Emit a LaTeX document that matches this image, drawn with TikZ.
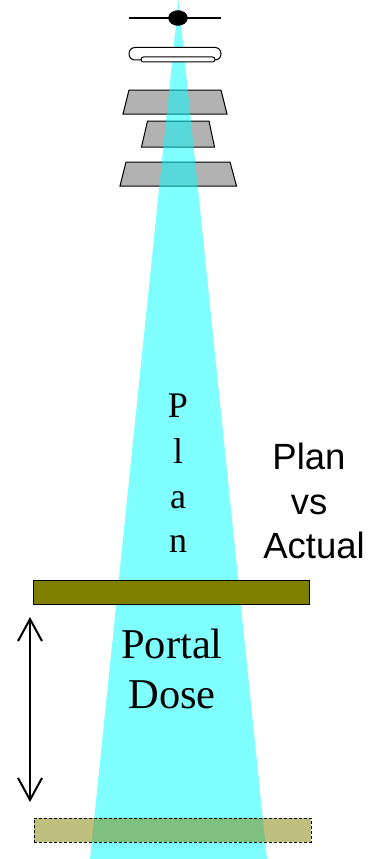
\documentclass[tikz,border=0pt]{standalone}
\usepackage{fontspec}
\setmainfont{Liberation Serif}
\newfontfamily\labelfont{Liberation Sans}
\usetikzlibrary{arrows.meta, shapes.geometric}
\definecolor{beamcyan}{RGB}{0,255,255}
\definecolor{plategray}{RGB}{178,178,178}
\definecolor{plateolive}{RGB}{128,128,0}
\tikzset{
    jaw/.style={draw=black, fill=plategray, line width=1pt},
    portal/.style={draw=black, fill=plateolive, line width=1pt},
    serifbig/.style={font=\fontsize{42.5}{42.5}\selectfont, anchor=base, inner sep=0pt},
    serifmid/.style={font=\fontsize{36}{36}\selectfont, anchor=base, inner sep=0pt},
    sanslabel/.style={font=\labelfont\fontsize{36.5}{36.5}\selectfont, anchor=base, inner sep=0pt}
}

\begin{document}
\begin{tikzpicture}[x=1pt, y=-1pt]
    \useasboundingbox (0,0) rectangle (370,859);

    % 1. Source
    \draw[line width=1.4pt] (129,18) -- (221,18);

    % 2. Jaws
    \draw[jaw] (129,90) -- (221,90) -- (227,114) -- (123,114) -- cycle;
    \draw[jaw] (147.5,121) -- (209,121) -- (214.5,147) -- (141.5,147) -- cycle;
    \draw[jaw] (126,162) -- (230,162) -- (236.5,186) -- (120,186) -- cycle;

    % 3. Beam
    \fill[beamcyan, opacity=0.5] (178.5,0) -- (267,859) -- (90,859) -- cycle;

    % 4. Source and applicator on top of the beam
    \node[draw, fill=black, ellipse, minimum width=19pt, minimum height=15pt, inner sep=0pt] (source) at (178,18) {};
    \draw[fill=white, line width=1pt, rounded corners=6pt] (129,47.5) rectangle (221,60);
    \draw[fill=white, line width=1pt, rounded corners=2.5pt] (141,57) rectangle (215,62);

    % 5. Detector planes
    \node[portal, minimum width=276pt, minimum height=24pt, inner sep=0pt] (imager) at (171,592) {};
    \node[draw=black, densely dashed, fill=plateolive, fill opacity=0.5, line width=0.7pt,
        minimum width=277pt, minimum height=24pt, inner sep=0pt] (imagerlow) at (172.5,830) {};

    % 6. Distance arrow
    \coordinate (arrowtop) at (30,617);
    \coordinate (arrowbot) at (30,802);
    \draw[{Straight Barb[length=22pt, width=24pt]}-{Straight Barb[length=22pt, width=24pt]}, line width=2pt] (arrowtop) -- (arrowbot);

    % 7. Labels
    \foreach \ch/\yy in {P/417, l/463, a/508, n/552} {
        \node[serifmid] (plan\ch) at (178,\yy) {\ch};
    }
    \node[serifbig] (portaltext) at (172,658) {Portal};
    \node[serifbig] (dosetext) at (172,708) {Dose};
    \node[sanslabel] (plantext) at (309,469) {Plan};
    \node[sanslabel] (vstext) at (309,514) {vs};
    \node[sanslabel] (actualtext) at (314,558) {Actual};
\end{tikzpicture}
\end{document}
